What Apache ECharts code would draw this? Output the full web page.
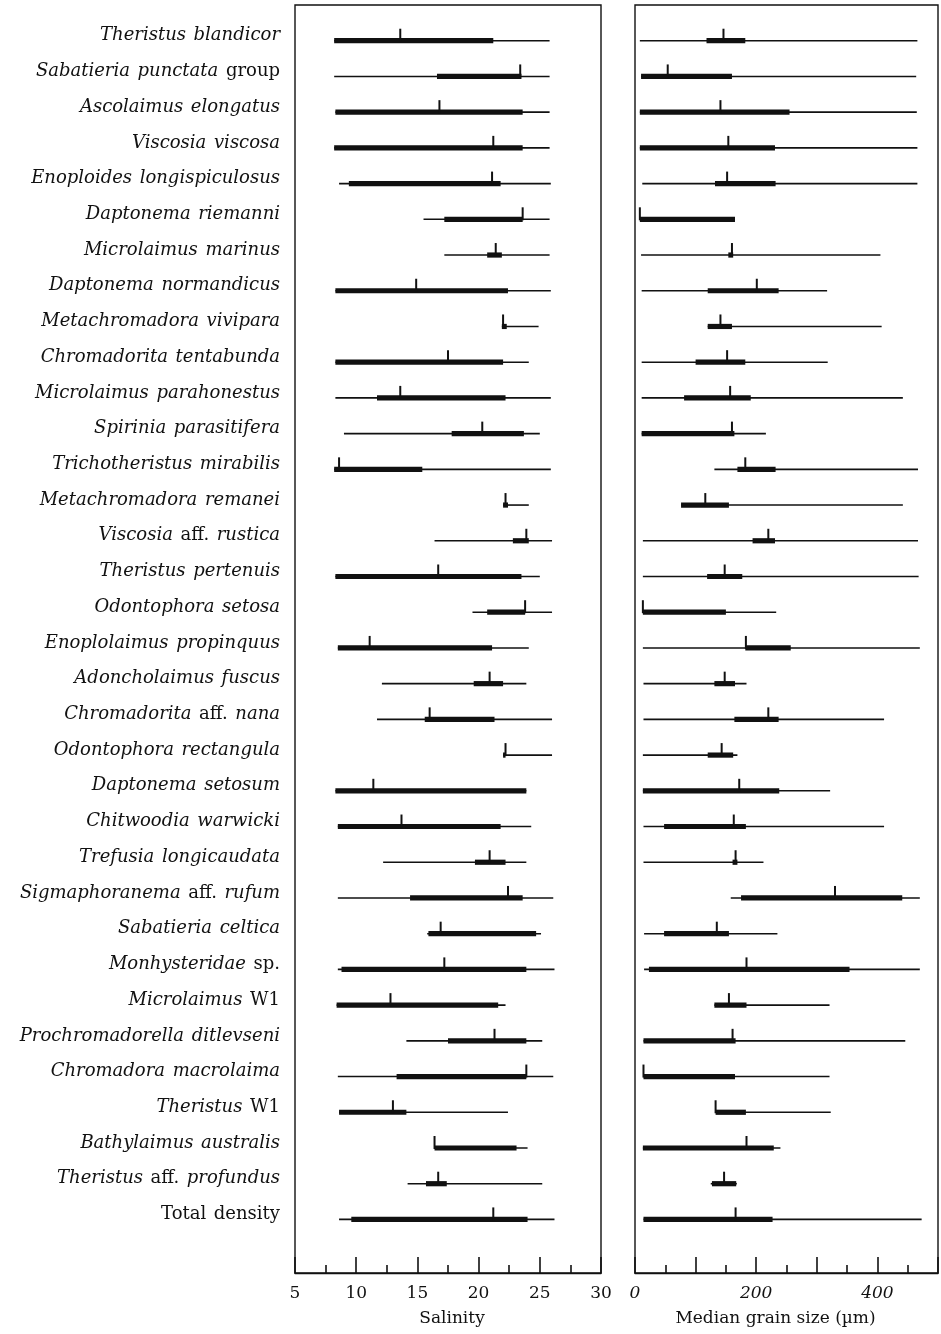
<!DOCTYPE html>
<html>
<head>
<meta charset="utf-8">
<script src="https://cdn.jsdelivr.net/npm/echarts@6/dist/echarts.min.js"></script>
<style>
  html, body { margin: 0; padding: 0; background: #fff; }
  #chart { width: 941px; height: 1334px; }
</style>
</head>
<body>
<div id="chart"></div>
<script>
// Species (top to bottom)
const species = [
  'Theristus blandicor', 'Sabatieria punctata group', 'Ascolaimus elongatus', 'Viscosia viscosa',
  'Enoploides longispiculosus', 'Daptonema riemanni', 'Microlaimus marinus', 'Daptonema normandicus',
  'Metachromadora vivipara', 'Chromadorita tentabunda', 'Microlaimus parahonestus', 'Spirinia parasitifera',
  'Trichotheristus mirabilis', 'Metachromadora remanei', 'Viscosia aff. rustica', 'Theristus pertenuis',
  'Odontophora setosa', 'Enoplolaimus propinquus', 'Adoncholaimus fuscus', 'Chromadorita aff. nana',
  'Odontophora rectangula', 'Daptonema setosum', 'Chitwoodia warwicki', 'Trefusia longicaudata',
  'Sigmaphoranema aff. rufum', 'Sabatieria celtica', 'Monhysteridae sp.', 'Microlaimus W1',
  'Prochromadorella ditlevseni', 'Chromadora macrolaima', 'Theristus W1', 'Bathylaimus australis',
  'Theristus aff. profundus', 'Total density'
];
// Words set in roman type inside the species labels
const romanWords = ['group', 'aff.', 'sp.', 'W1', 'Total', 'density'];

// Salinity: range ends, central band and weighted mean
const salMin = [8.2, 8.2, 8.3, 8.2, 8.6, 15.5, 17.2, 8.3, 21.9, 8.3, 8.3, 9.0, 8.2, 22.0, 16.4, 8.3, 19.5,
  8.5, 12.1, 11.7, 22.0, 8.3, 8.5, 12.2, 8.5, 15.8, 8.5, 8.4, 14.1, 8.5, 8.6, 16.4, 14.2, 8.6];
const salQ1 = [8.2, 16.6, 8.3, 8.2, 9.4, 17.2, 20.7, 8.3, 21.9, 8.3, 11.7, 17.8, 8.2, 22.0, 22.8, 8.3, 20.7,
  8.5, 19.6, 15.6, 22.0, 8.3, 8.5, 19.7, 14.4, 15.9, 8.8, 8.4, 17.5, 13.3, 8.6, 16.4, 15.7, 9.6];
const salMean = [13.6, 23.4, 16.8, 21.2, 21.1, 23.6, 21.4, 14.9, 22.0, 17.5, 13.6, 20.3, 8.6, 22.2, 23.9, 16.7, 23.8,
  11.1, 20.9, 16.0, 22.2, 11.4, 13.7, 20.9, 22.4, 16.9, 17.2, 12.8, 21.3, 23.9, 13.0, 16.4, 16.7, 21.2];
const salQ3 = [21.2, 23.5, 23.6, 23.6, 21.8, 23.6, 21.9, 22.4, 22.3, 22.0, 22.2, 23.7, 15.4, 22.4, 24.1, 23.5, 23.8,
  21.1, 22.0, 21.3, 22.2, 23.9, 21.8, 22.2, 23.6, 24.7, 23.9, 21.6, 23.9, 23.9, 14.1, 23.1, 17.4, 24.0];
const salMax = [25.8, 25.8, 25.8, 25.8, 25.9, 25.8, 25.8, 25.9, 24.9, 24.1, 25.9, 25.0, 25.9, 24.1, 26.0, 25.0, 26.0,
  24.1, 23.9, 26.0, 26.0, 23.9, 24.3, 23.9, 26.1, 25.1, 26.2, 22.2, 25.2, 26.1, 22.4, 24.0, 25.2, 26.2];

// Median grain size (µm): range ends, central band and weighted mean
const grainMin = [8, 10, 8, 8, 12, 8, 10, 11, 120, 11, 11, 11, 131, 76, 13, 13, 13,
  13, 14, 14, 13, 13, 14, 14, 158, 15, 15, 131, 14, 14, 133, 13, 125, 14];
const grainQ1 = [118, 10, 8, 8, 132, 8, 154, 120, 120, 100, 81, 11, 169, 76, 194, 119, 13,
  182, 131, 164, 120, 13, 48, 161, 175, 48, 23, 131, 14, 14, 133, 13, 127, 14];
const grainMean = [146, 54, 141, 154, 152, 8, 160, 201, 141, 152, 157, 160, 182, 116, 220, 148, 13,
  183, 148, 220, 143, 172, 163, 166, 330, 135, 184, 155, 161, 14, 133, 184, 147, 166];
const grainQ3 = [182, 160, 255, 231, 232, 165, 162, 237, 160, 182, 191, 164, 232, 155, 231, 177, 150,
  257, 165, 237, 162, 238, 183, 169, 441, 155, 354, 184, 166, 165, 183, 229, 167, 227];
const grainMax = [466, 464, 465, 466, 466, 165, 405, 317, 407, 318, 442, 216, 467, 442, 467, 468, 233,
  470, 184, 411, 169, 322, 411, 212, 470, 235, 470, 321, 446, 321, 323, 240, 168, 473];

const INK = '#111';
const SERIF = "'DejaVu Serif', 'Liberation Serif', serif";

function rows(mins, q1s, means, q3s, maxs) {
  return species.map((_, i) => [i, mins[i], q1s[i], means[i], q3s[i], maxs[i]]);
}

// One row: thin full range, thick central band, short upright tick at the mean
function renderRange(params, api) {
  const row = api.value(0);
  const pMin = api.coord([api.value(1), row]);
  const pQ1 = api.coord([api.value(2), row]);
  const pMean = api.coord([api.value(3), row]);
  const pQ3 = api.coord([api.value(4), row]);
  const pMax = api.coord([api.value(5), row]);
  const y = pMin[1];
  return {
    type: 'group',
    children: [
      { type: 'line', shape: { x1: pMin[0], y1: y, x2: pMax[0], y2: y },
        style: { stroke: INK, lineWidth: 1.6 } },
      { type: 'rect', shape: { x: pQ1[0], y: y - 2.6, width: Math.max(pQ3[0] - pQ1[0], 2), height: 5.2 },
        style: { fill: INK } },
      { type: 'line', shape: { x1: pMean[0], y1: y + 1, x2: pMean[0], y2: y - 12 },
        style: { stroke: INK, lineWidth: 2 } }
    ]
  };
}

// Genus/species names in italics, qualifiers in roman, with a slightly wider word gap
function speciesLabel(v) {
  if (v < 0 || v >= species.length || v !== Math.round(v)) return '';
  return species[v].split(' ')
    .map(w => (romanWords.includes(w) ? '{r|' + w + '}' : '{i|' + w + '}'))
    .join('{s| }');
}

function rowAxis(gridIndex, showLabels) {
  return {
    type: 'value', gridIndex: gridIndex, inverse: true,
    min: -1, max: 34.5, interval: 1,
    axisLine: { show: false }, axisTick: { show: false }, splitLine: { show: false },
    axisLabel: {
      show: showLabels, margin: 15, formatter: speciesLabel,
      padding: [0, 0, 10, 0],
      rich: {
        i: { fontFamily: SERIF, fontStyle: 'italic', fontSize: 18, color: INK },
        r: { fontFamily: SERIF, fontSize: 18, color: INK },
        s: { fontFamily: SERIF, fontSize: 24, color: INK }
      }
    }
  };
}

function valueAxis(gridIndex, min, max, interval, name, labelFmt, italicLabels, namePad) {
  return {
    type: 'value', gridIndex: gridIndex, position: 'bottom',
    min: min, max: max, interval: interval,
    name: name, nameLocation: 'middle', nameGap: 37,
    nameTextStyle: { fontFamily: SERIF, fontSize: 17, color: INK, padding: namePad },
    axisLine: { show: true, onZero: false, lineStyle: { color: INK, width: 1.4 } },
    axisTick: { show: true, inside: true, length: 16, lineStyle: { color: INK, width: 1.6 } },
    minorTick: { show: true, splitNumber: 2, length: 8, lineStyle: { color: INK, width: 1.6 } },
    splitLine: { show: false },
    axisLabel: {
      margin: 12, fontFamily: SERIF, fontSize: 17, color: INK,
      fontStyle: italicLabels ? 'italic' : 'normal', formatter: labelFmt
    }
  };
}

const chart = echarts.init(document.getElementById('chart'), null, { renderer: 'canvas' });
chart.setOption({
  backgroundColor: '#fff',
  animation: false,
  grid: [
    { left: 295, width: 306, top: 5, bottom: 61, show: true, borderColor: INK, borderWidth: 1.4 },
    { left: 635, width: 303, top: 5, bottom: 61, show: true, borderColor: INK, borderWidth: 1.4 }
  ],
  xAxis: [
    valueAxis(0, 5, 30, 5, 'Salinity', v => String(v), false, [0, 0, 0, 8]),
    valueAxis(1, 0, 500, 100, 'Median grain size (\u00b5m)', v => (v % 200 === 0 && v < 500 ? String(v) : ''), true, [0, 22, 0, 0])
  ],
  yAxis: [rowAxis(0, true), rowAxis(1, false)],
  series: [
    { type: 'custom', xAxisIndex: 0, yAxisIndex: 0, renderItem: renderRange,
      encode: { x: [1, 2, 3, 4, 5], y: 0 },
      data: rows(salMin, salQ1, salMean, salQ3, salMax) },
    { type: 'custom', xAxisIndex: 1, yAxisIndex: 1, renderItem: renderRange,
      encode: { x: [1, 2, 3, 4, 5], y: 0 },
      data: rows(grainMin, grainQ1, grainMean, grainQ3, grainMax) }
  ]
});
</script>
</body>
</html>
